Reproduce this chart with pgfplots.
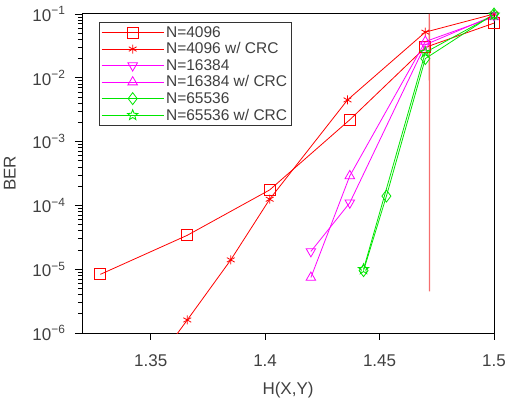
\documentclass[border=0pt]{standalone}
\usepackage{pgfplots}
\pgfplotsset{compat=1.18}
\usepackage{fontspec}
\setmainfont{Liberation Sans}
\definecolor{mred}{rgb}{1,0,0}
\definecolor{mmag}{rgb}{1,0,1}
\definecolor{mgreen}{rgb}{0,0.9,0}
\definecolor{vlred}{RGB}{245,110,110}
\pgfdeclareplotmark{pentagram}{%
  \pgfpathmoveto{\pgfpointpolar{90}{\pgfplotmarksize}}%
  \pgfpathlineto{\pgfpointpolar{126}{0.42\pgfplotmarksize}}%
  \pgfpathlineto{\pgfpointpolar{162}{\pgfplotmarksize}}%
  \pgfpathlineto{\pgfpointpolar{198}{0.42\pgfplotmarksize}}%
  \pgfpathlineto{\pgfpointpolar{234}{\pgfplotmarksize}}%
  \pgfpathlineto{\pgfpointpolar{270}{0.42\pgfplotmarksize}}%
  \pgfpathlineto{\pgfpointpolar{306}{\pgfplotmarksize}}%
  \pgfpathlineto{\pgfpointpolar{342}{0.42\pgfplotmarksize}}%
  \pgfpathlineto{\pgfpointpolar{18}{\pgfplotmarksize}}%
  \pgfpathlineto{\pgfpointpolar{54}{0.42\pgfplotmarksize}}%
  \pgfpathclose\pgfusepathqstroke}
\begin{document}
\begin{tikzpicture}
\path[use as bounding box] (-82pt,-70pt) rectangle (436pt,333pt);
\begin{axis}[
  at={(0pt,0pt)}, anchor=south west,
  scale only axis, width=412pt, height=319pt,
  ymode=log, xmin=1.32, xmax=1.5, ymin=1e-6, ymax=1e-1,
  xtick={1.35,1.4,1.45,1.5},
  xticklabels={1.35,1.4,1.45,1.5},
  ytick={1e-6,1e-5,1e-4,1e-3,1e-2,1e-1},
  yticklabels={10\textsuperscript{−6},10\textsuperscript{−5},10\textsuperscript{−4},10\textsuperscript{−3},10\textsuperscript{−2},10\textsuperscript{−1}},
  tick pos=left, tick align=outside,
  major tick length=7pt, minor tick length=4pt,
  ticklabel style={font=\fontsize{17}{20}\selectfont, text=black!75},
  xticklabel style={yshift=-21pt, anchor=center},
  yticklabel style={xshift=-6pt},
  xlabel={H(X,Y)}, ylabel={BER},
  label style={font=\fontsize{17}{20}\selectfont, text=black!75},
  xlabel style={yshift=-8pt},
  ylabel style={yshift=10pt},
  axis line style={line width=1pt},
  every tick/.style={black, line width=0.8pt},
  legend cell align=left,
  legend style={at={(0.041,0.975)}, anchor=north west, font=\fontsize{15.5}{17}\selectfont, draw=black!80, line width=0.8pt, inner sep=2pt, row sep=0pt, text=black!75},
  legend image code/.code={\draw[mark repeat=2,mark phase=2] plot coordinates {(0pt,0pt) (31pt,0pt) (62pt,0pt)};},
  every axis plot/.append style={line width=0.8pt, mark size=5.5pt, mark options={solid, line width=0.8pt}},
]
\addplot[vlred, line width=1.3pt, mark=none, forget plot] coordinates {(1.47175,0.1) (1.47185,4.5e-6)};
\addplot[mred, mark=square] coordinates {(1.328,8.3e-6) (1.366,3.4e-5) (1.402,1.75e-4) (1.437,2.2e-3) (1.47,0.03) (1.5,0.072)};
\addplot[mred, mark=asterisk, mark size=4.5pt] coordinates {(1.3475,2e-7) (1.366,1.6e-6) (1.385,1.4e-5) (1.402,1.25e-4) (1.436,4.5e-3) (1.47,0.052) (1.5,0.1)};
\addplot[mmag, mark=triangle, mark options={rotate=180}] coordinates {(1.42,1.9e-5) (1.437,1.1e-4) (1.47,0.033) (1.5,0.095)};
\addplot[mmag, mark=triangle] coordinates {(1.42,7.4e-6) (1.437,2.9e-4) (1.47,0.037) (1.5,0.09)};
\addplot[mgreen, mark=diamond, mark size=6pt] coordinates {(1.443,9.5e-6) (1.453,1.4e-4) (1.47,0.02) (1.5,0.1)};
\addplot[mgreen, mark=pentagram] coordinates {(1.443,1e-5) (1.47,0.025) (1.5,0.097)};
\legend{N=4096,N=4096 w/ CRC,N=16384,N=16384 w/ CRC,N=65536,N=65536 w/ CRC}
\end{axis}
\end{tikzpicture}
\end{document}
